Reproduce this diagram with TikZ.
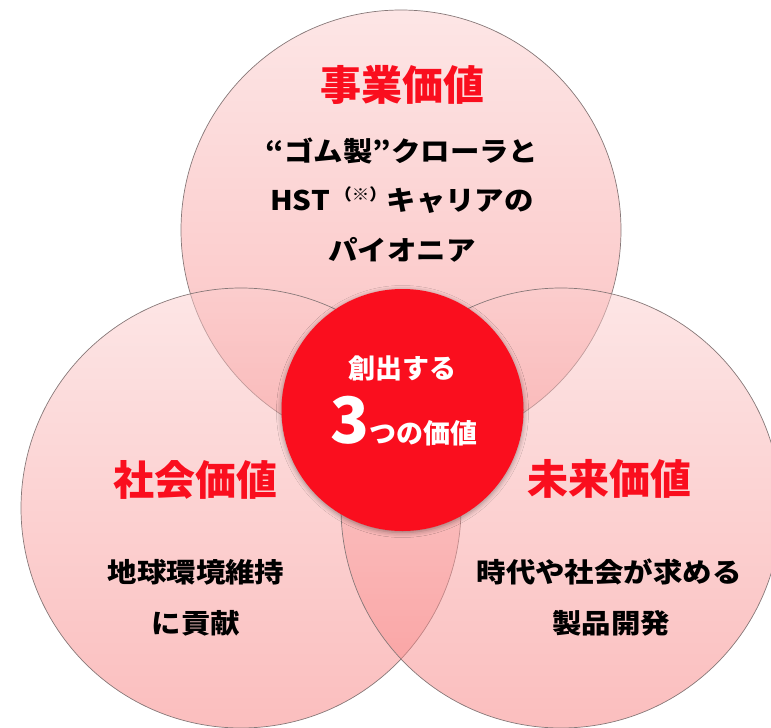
\documentclass[tikz,border=0pt]{standalone}
\usepackage{fontspec}
\newfontfamily\jp{Noto Sans CJK JP}
\newfontfamily\jpw{Noto Sans CJK JP}[FakeStretch=1.09]
\usetikzlibrary{shadows.blur}
\definecolor{vred}{RGB}{250,14,30}
\definecolor{pinkT}{RGB}{251,205,205}
\definecolor{pinkB}{RGB}{247,125,125}
\definecolor{edgegray}{RGB}{135,120,120}
\begin{document}
\begin{tikzpicture}[x=1pt,y=-1pt,
  pinkc/.style={circle, inner sep=0pt, minimum size=440pt, draw=edgegray, line width=0.7pt,
                top color=pinkT, bottom color=pinkB, fill opacity=0.5},
  redc/.style={circle, inner sep=0pt, minimum size=242pt, fill=vred,
               blur shadow={shadow xshift=0pt, shadow yshift=-1.5pt, shadow blur radius=5pt, shadow opacity=40}},
  ttl/.style={font=\jp\bfseries\fontsize{41}{41}\selectfont, text=vred, inner sep=0pt},
  bodytxt/.style={font=\jpw\bfseries\fontsize{27}{27}\selectfont, text=black, inner sep=0pt},
  whitetxt/.style={font=\jp\bfseries\fontsize{27}{27}\selectfont, text=white, inner sep=0pt}
]
\useasboundingbox (0,0) rectangle (771,728);
\begin{scope}
\clip (0,0) rectangle (771,728);
\node[pinkc] (ctop) at (401,230) {};
\node[pinkc] (cleft) at (241,508) {};
\node[pinkc] (cright) at (561,508) {};
\end{scope}
\node[redc] (ccen) at (402.5,410) {};

% top circle texts
\node[ttl] (t1) at (402,85) {事業価値};
\node[bodytxt] (b11) at (402,151) {“ゴム製”クローラと};
\node[bodytxt] (b12) at (402,200) {HST\,\raisebox{0.35em}{\fontsize{16}{16}\selectfont （※）}キャリアの};
\node[bodytxt] (b13) at (402,250) {パイオニア};

% left circle texts
\node[ttl] (t2) at (195,480) {社会価値};
\node[bodytxt] (b21) at (196,572) {地球環境維持};
\node[bodytxt] (b22) at (196,623) {に貢献};

% right circle texts
\node[ttl] (t3) at (609,479) {未来価値};
\node[bodytxt] (b31) at (609,572) {時代や社会が求める};
\node[bodytxt] (b32) at (611,623) {製品開発};

% center texts
\node[whitetxt] (c1) at (402,368) {創出する};
\node[whitetxt, anchor=base] (c2) at (404,443) {{\fontsize{64}{64}\selectfont 3}つの価値};
\end{tikzpicture}
\end{document}
